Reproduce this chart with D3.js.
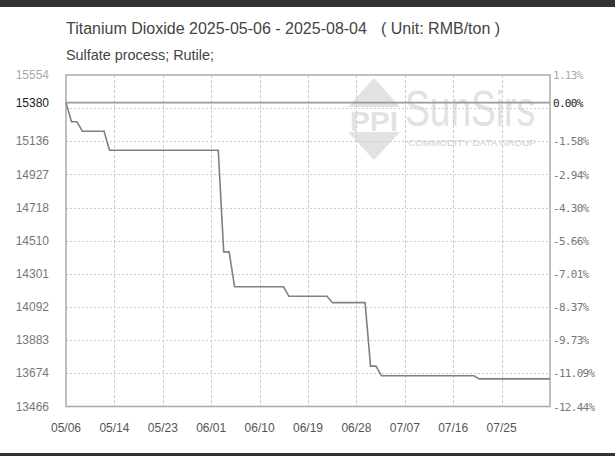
<!DOCTYPE html>
<head>
  <meta charset="utf-8">
  <title>Titanium Dioxide price</title>
  <script src="https://d3js.org/d3.v7.min.js"></script>
  <style>
    body { margin: 0; background: #fff; overflow: hidden; }
    svg { display: block; }
    text { font-family: "Liberation Sans", Arial, sans-serif; }
  </style>
</head>
<body>
<div id="chart"></div>
<script>
  // series: change points of the daily price (RMB/ton)
  var dates = ["2025-05-06","2025-05-07","2025-05-08","2025-05-09","2025-05-13","2025-05-14",
               "2025-06-03","2025-06-04","2025-06-05","2025-06-06","2025-06-15","2025-06-16",
               "2025-06-23","2025-06-24","2025-06-30","2025-07-01","2025-07-02","2025-07-03",
               "2025-07-20","2025-07-21","2025-08-03"];
  var prices = [15380,15260,15260,15200,15200,15080,
                15080,14440,14440,14220,14220,14160,
                14160,14120,14120,13720,13720,13660,
                13660,13640,13640];
  var basePrice = 15380;

  var yTicks = [15554,15380,15136,14927,14718,14510,14301,14092,13883,13674,13466];
  var pctLabels = ["1.13%","0.00%","-1.58%","-2.94%","-4.30%","-5.66%","-7.01%","-8.37%","-9.73%","-11.09%","-12.44%"];
  var xLabels = ["05/06","05/14","05/23","06/01","06/10","06/19","06/28","07/07","07/16","07/25"];

  (function() {
    var width = 615, height = 456;
    var m = {left: 66, right: 550, top: 75, bottom: 406.5};

    var svg = d3.select("#chart").append("svg")
      .attr("width", width)
      .attr("height", height);

    // dark frame bands
    svg.append("rect").attr("x", 0).attr("y", 0).attr("width", width).attr("height", 7).attr("fill", "#333");
    svg.append("rect").attr("x", 0).attr("y", 453).attr("width", width).attr("height", 3).attr("fill", "#333");

    var parse = d3.timeParse("%Y-%m-%d");
    var data = dates.map((d, i) => ({date: parse(d), value: prices[i]}));

    var x = d3.scaleTime()
      .domain([parse(dates[0]), parse(dates[dates.length - 1])])
      .range([m.left, m.right]);
    var ymin = d3.min(yTicks), ymax = d3.max(yTicks);
    var y = d3.scaleLinear()
      .domain([ymin, ymax])
      .range([m.bottom, m.top]);

    // titles
    svg.append("text").attr("x", 66).attr("y", 34)
      .attr("font-size", 16).attr("fill", "#444")
      .text("Titanium Dioxide 2025-05-06 - 2025-08-04");
    svg.append("text").attr("x", 381).attr("y", 34)
      .attr("font-size", 16).attr("fill", "#444")
      .text("( Unit: RMB/ton )");
    svg.append("text").attr("x", 66).attr("y", 60)
      .attr("font-size", 15).attr("fill", "#444")
      .attr("textLength", 148).attr("lengthAdjust", "spacingAndGlyphs")
      .text("Sulfate process; Rutile;");

    // watermark
    var wm = svg.append("g").attr("fill", "#e2e2e2");
    wm.append("polygon").attr("points", "374,78 400,107 348,107");
    wm.append("polygon").attr("points", "348,132 400,132 374,160");
    wm.append("text").attr("x", 350).attr("y", 131)
      .attr("font-size", 28).attr("font-weight", "bold")
      .attr("textLength", 48).attr("lengthAdjust", "spacingAndGlyphs")
      .text("PPI");
    wm.append("text").attr("x", 405).attr("y", 126)
      .attr("font-size", 50)
      .attr("textLength", 130).attr("lengthAdjust", "spacingAndGlyphs")
      .text("SunSirs");
    wm.append("text").attr("x", 408).attr("y", 146)
      .attr("font-size", 9).attr("fill", "#d0d0d0")
      .attr("textLength", 128).attr("lengthAdjust", "spacingAndGlyphs")
      .text("COMMODITY DATA GROUP");

    // grid
    var grid = svg.append("g").attr("stroke", "#ccc").attr("stroke-width", 1);
    d3.range(1, 10).forEach(k => {
      var v = ymin + k * (ymax - ymin) / 10;
      grid.append("line")
        .attr("x1", m.left).attr("x2", m.right)
        .attr("y1", Math.round(y(v)) + 0.5).attr("y2", Math.round(y(v)) + 0.5)
        .attr("stroke-dasharray", "2,2");
    });
    var t0 = x.domain()[0].getTime(), t1 = x.domain()[1].getTime();
    var tickDates = xLabels.map((d, k) => new Date(t0 + k * (t1 - t0) / 10));
    tickDates.slice(1).forEach(d => {
      grid.append("line")
        .attr("x1", Math.round(x(d)) + 0.5).attr("x2", Math.round(x(d)) + 0.5)
        .attr("y1", m.top).attr("y2", m.bottom)
        .attr("stroke-dasharray", "3,2");
    });

    // base line
    svg.append("line")
      .attr("x1", m.left).attr("x2", m.right)
      .attr("y1", y(basePrice)).attr("y2", y(basePrice))
      .attr("stroke", "#999").attr("stroke-width", 1.8);

    // frame
    svg.append("rect")
      .attr("x", m.left).attr("y", m.top)
      .attr("width", m.right - m.left).attr("height", m.bottom - m.top)
      .attr("fill", "none").attr("stroke", "#aaa").attr("stroke-width", 1.5);

    // price line
    var line = d3.line().x(d => x(d.date)).y(d => y(d.value));
    svg.append("path")
      .datum(data)
      .attr("d", line)
      .attr("fill", "none")
      .attr("stroke", "#808080")
      .attr("stroke-width", 1.6);

    // left axis labels
    svg.append("g").selectAll("text")
      .data(yTicks)
      .enter().append("text")
      .attr("x", 49).attr("y", d => y(d) + 4)
      .attr("text-anchor", "end")
      .attr("font-size", 12)
      .attr("fill", (d, i) => i === 0 ? "#aaa" : (d === basePrice ? "#222" : "#777"))
      .text(d => d);

    // right axis labels
    svg.append("g").selectAll("text")
      .data(yTicks)
      .enter().append("text")
      .attr("x", 553).attr("y", d => y(d) + 4)
      .attr("font-size", 11)
      .style("font-family", "'DejaVu Sans Mono', monospace")
      .attr("letter-spacing", -0.7)
      .attr("fill", (d, i) => i === 0 ? "#aaa" : (d === basePrice ? "#222" : "#777"))
      .text((d, i) => pctLabels[i]);

    // x labels
    svg.append("g").selectAll("text")
      .data(tickDates)
      .enter().append("text")
      .attr("x", d => x(d)).attr("y", 432)
      .attr("text-anchor", "middle")
      .attr("font-size", 12)
      .attr("fill", "#555")
      .text((d, i) => xLabels[i]);
  })();
</script>
</body>
</html>
